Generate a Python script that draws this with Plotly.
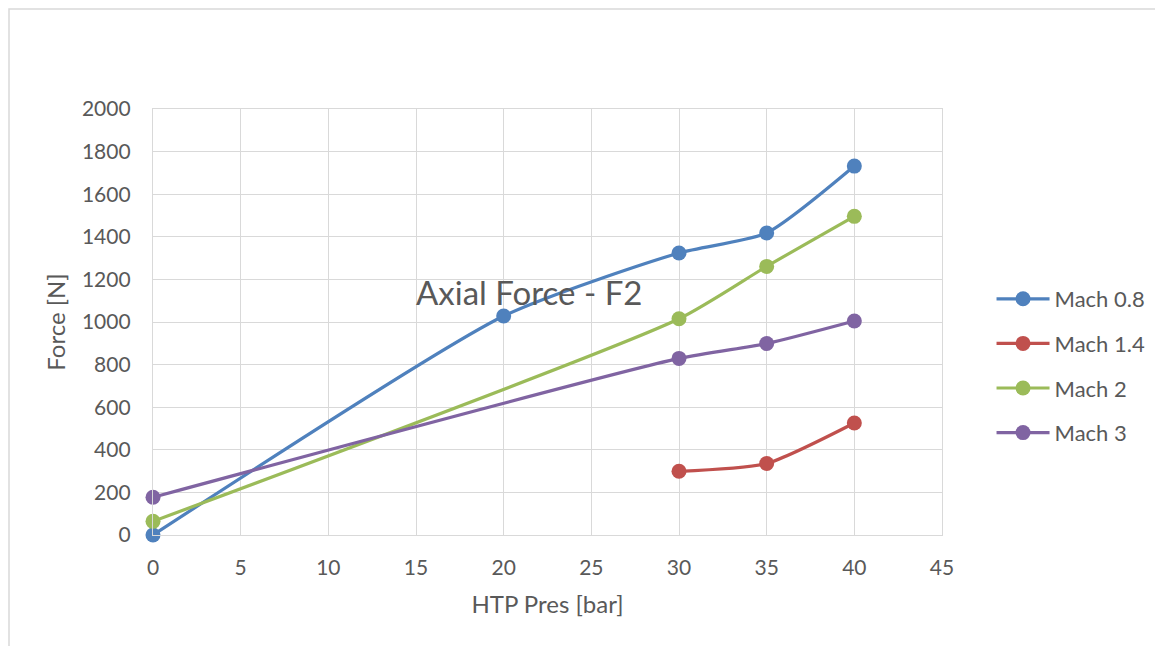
import plotly.graph_objects as go

series_names = ["Mach 0.8", "Mach 1.4", "Mach 2", "Mach 3"]
colors = ["#4f81bd", "#c0504d", "#9bbb59", "#8064a2"]

x_m08 = [0, 20, 30, 35, 40]
y_m08 = [0, 1028, 1324, 1418, 1732]

x_m14 = [30, 35, 40]
y_m14 = [299, 336, 526]

x_m2 = [0, 30, 35, 40]
y_m2 = [64, 1015, 1261, 1496]

x_m3 = [0, 30, 35, 40]
y_m3 = [177, 829, 899, 1005]

x_ticks = [0, 5, 10, 15, 20, 25, 30, 35, 40, 45]
y_ticks = [0, 200, 400, 600, 800, 1000, 1200, 1400, 1600, 1800, 2000]

FONT = "Lato"
GRAY = "#595959"
GRID = "#d9d9d9"

data = [(x_m08, y_m08), (x_m14, y_m14), (x_m2, y_m2), (x_m3, y_m3)]

fig = go.Figure()
for i, ((xs, ys), name, c) in enumerate(zip(data, series_names, colors)):
    fig.add_trace(go.Scatter(
        x=xs, y=ys, name=name, mode="lines+markers",
        line=dict(color=c, width=3.2, shape="spline", smoothing=0.6),
        marker=dict(color=c, size=15),
        legendgroup=f"g{i}", cliponaxis=False,
    ))

OFF = 8  # page body margin offset
W, H = 1163, 646
L, R, T, B = 153 - OFF, 942 - OFF, 109 - OFF, 535 - OFF

def px(xp):
    return (xp - OFF - L) / (R - L)

def py(yp):
    return (B - (yp - OFF)) / (B - T)

fig.update_layout(
    width=W, height=H,
    margin=dict(l=L, r=W - R, t=T, b=H - B),
    paper_bgcolor="white", plot_bgcolor="white",
    font=dict(family=FONT, color=GRAY, size=21),
    showlegend=True,
    legend=dict(
        x=px(1001) - 0.012, y=py(278), xanchor="left", yanchor="top",
        font=dict(size=22, color=GRAY, family=FONT),
        tracegroupgap=13, itemwidth=53, bgcolor="rgba(0,0,0,0)",
    ),
    xaxis=dict(
        range=[0, 45], tickmode="array", tickvals=x_ticks,
        showgrid=True, gridcolor=GRID, gridwidth=1.3,
        showline=True, linecolor=GRID, linewidth=1.3, mirror=True,
        zeroline=False, ticks="", ticklabelstandoff=14,
        tickfont=dict(size=21, color=GRAY, family=FONT),
        title=dict(text="HTP Pres [bar]", font=dict(size=24, color=GRAY, family=FONT), standoff=17),
    ),
    yaxis=dict(
        range=[0, 2000], tickmode="array", tickvals=y_ticks,
        showgrid=True, gridcolor=GRID, gridwidth=1.3,
        showline=True, linecolor=GRID, linewidth=1.3, mirror=True,
        zeroline=False, ticks="", ticklabelstandoff=17,
        tickfont=dict(size=21, color=GRAY, family=FONT),
        title=dict(text="Force [N]", font=dict(size=24, color=GRAY, family=FONT), standoff=9),
    ),
    annotations=[dict(
        text="Axial Force - F2", xref="paper", yref="paper",
        x=px(529), y=py(292),
        xanchor="center", yanchor="middle", showarrow=False,
        font=dict(size=33, color=GRAY, family=FONT),
    )],
    shapes=[dict(
        type="rect", xref="paper", yref="paper",
        x0=px(9), x1=px(W + 30),
        y0=py(H + 30), y1=py(9),
        line=dict(color=GRID, width=1.5), fillcolor="rgba(0,0,0,0)", layer="below",
    )],
)

fig.write_html("out.html")
